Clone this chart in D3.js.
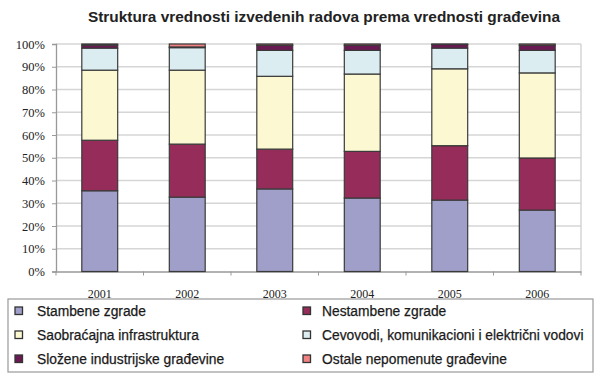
<!DOCTYPE html>
<html><head><meta charset="utf-8">
<script src="https://cdn.jsdelivr.net/npm/d3@7"></script>
<style>body{margin:0;background:#fff}svg{display:block}</style>
</head><body><svg id="c" width="600" height="377"></svg>
<script>
const years = ["2001","2002","2003","2004","2005","2006"];
const seriesNames = ["Stambene zgrade","Nestambene zgrade","Saobraćajna infrastruktura","Cevovodi, komunikacioni i električni vodovi","Složene industrijske građevine","Ostale nepomenute građevine"];
const stambene = [35.5,32.7,36.3,32.3,31.4,27.0];
const nestambene = [22.2,23.3,17.5,20.5,23.9,22.9];
const saobracajna = [30.8,32.5,32.0,34.0,33.8,37.4];
const cevovodi = [9.7,9.9,11.4,10.4,9.1,9.9];
const slozene = [1.3,0.3,2.2,2.2,1.6,2.2];
const ostale = [0.5,1.3,0.6,0.6,0.2,0.6];
const yTicks = [0,0.1,0.2,0.3,0.4,0.5,0.6,0.7,0.8,0.9,1];
const colors = ["#a09fc9","#962c5a","#fcf9d2","#dcedf1","#6a1a52","#f08282"];
const title = "Struktura vrednosti izvedenih radova prema vrednosti građevina";

const seriesVals = [stambene,nestambene,saobracajna,cevovodi,slozene,ostale];
const table = years.map((y,i)=>{const o={year:y}; seriesNames.forEach((s,k)=>o[s]=seriesVals[k][i]); return o;});
const stack = d3.stack().keys(seriesNames).offset(d3.stackOffsetExpand)(table);

const svg = d3.select("#c");
const L=56, R=581, T=44, B=271.5;
const x = d3.scaleBand().domain(years).range([L,R]).paddingInner(0.59).paddingOuter(0.295);
const y = d3.scaleLinear().domain([0,1]).range([B,T]);

svg.append("text").attr("x",324).attr("y",22).attr("text-anchor","middle")
  .attr("font-family","Liberation Sans, Arial, sans-serif").attr("font-weight","bold").attr("font-size",15.4).attr("fill","#222").text(title);

// gridlines
svg.append("g").selectAll("line").data(yTicks.slice(1)).join("line")
  .attr("x1",L).attr("x2",R).attr("y1",d=>y(d)).attr("y2",d=>y(d))
  .attr("stroke","#d6d6d6").attr("stroke-width",1.3);
svg.append("line").attr("x1",R).attr("x2",R).attr("y1",T).attr("y2",B).attr("stroke","#d0d0d0").attr("stroke-width",1.3);

// y axis
const ya = svg.append("g").attr("transform",`translate(${L},0)`)
  .call(d3.axisLeft(y).tickValues(yTicks).tickFormat(d3.format(".0%")).tickSize(4).tickPadding(7));
ya.attr("font-family","Liberation Serif, Times New Roman, serif").attr("font-size",12.5);
ya.select(".domain").attr("stroke","#999").attr("stroke-width",1.3);
ya.selectAll(".tick line").attr("stroke","#999");
ya.selectAll("text").attr("fill","#222");

// x axis
const xa = svg.append("g").attr("transform",`translate(0,${B})`)
  .call(d3.axisBottom(x).tickSize(0).tickPadding(18));
xa.attr("font-family","Liberation Serif, Times New Roman, serif").attr("font-size",12);
xa.select(".domain").attr("stroke","#999").attr("stroke-width",1.3);
xa.selectAll("text").attr("fill","#222");
const step = x.step();
svg.append("g").selectAll("line").data(d3.range(years.length+1)).join("line")
  .attr("x1",i=>L+i*step).attr("x2",i=>L+i*step).attr("y1",B).attr("y2",B+4).attr("stroke","#999");

// bars
svg.append("g").selectAll("g").data(stack).join("g").attr("fill",(d,i)=>colors[i])
  .selectAll("rect").data(d=>d).join("rect")
  .attr("x",d=>x(d.data.year)).attr("width",x.bandwidth())
  .attr("y",d=>y(d[1])).attr("height",d=>y(d[0])-y(d[1]))
  .attr("stroke","#3a3a3a").attr("stroke-width",1.2);

// legend
svg.append("rect").attr("x",8).attr("y",299).attr("width",585).attr("height",73)
  .attr("fill","#fff").attr("stroke","#999").attr("stroke-width",1.2);
const lg = svg.append("g").selectAll("g").data(seriesNames).join("g")
  .attr("transform",(d,i)=>`translate(${i%2===0?15:303},${311+Math.floor(i/2)*24})`);
lg.append("rect").attr("x",0).attr("y",-4).attr("width",7.5).attr("height",7.5)
  .attr("fill",(d,i)=>colors[i]).attr("stroke","#333").attr("stroke-width",1.3);
lg.append("text").attr("x",(d,i)=>i%2===0?22:19).attr("y",5)
  .attr("font-family","Liberation Sans, Arial, sans-serif").attr("font-size",13.8)
  .attr("fill","#1a1a1a").attr("stroke","#1a1a1a").attr("stroke-width",0.25).text(d=>d);
</script></body></html>
